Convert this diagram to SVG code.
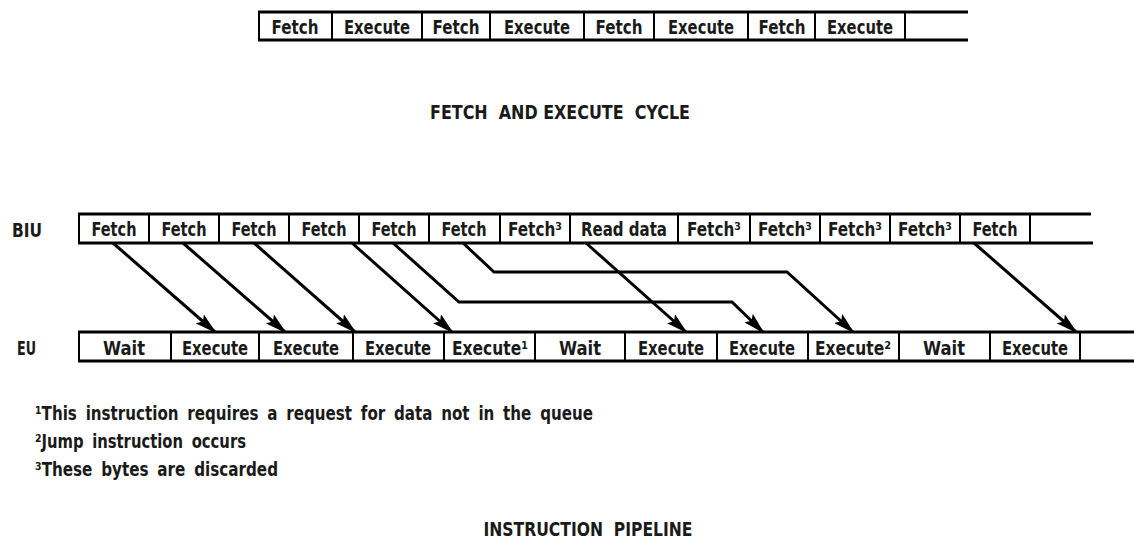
<svg xmlns="http://www.w3.org/2000/svg" width="1134" height="540" viewBox="0 0 1134 540">
<style>
text{font-family:'DejaVu Sans Condensed','Liberation Sans Narrow','Liberation Sans',sans-serif;font-weight:bold;fill:#1a1a1a}
.c{font-size:19px;text-anchor:middle}
.lbl{font-size:19px}
.fn{font-size:19px;word-spacing:4px}
.ttl{font-size:20px;text-anchor:middle;white-space:pre}
.h{stroke:#000;stroke-width:3;fill:none}
.d{stroke:#000;stroke-width:2}
.a{stroke:#000;stroke-width:3;fill:none;marker-end:url(#ah)}
</style>
<defs>
<marker id="ah" markerUnits="userSpaceOnUse" markerWidth="22" markerHeight="12" refX="20" refY="6" orient="auto" viewBox="0 0 22 12">
<path d="M0,0 L22,6 L0,12 L4,6 z" fill="#000"/>
</marker>
</defs>
<rect width="1134" height="540" fill="#fff"/>

<!-- Fetch and execute cycle -->
<g id="cycle-row">
<line class="h" x1="258" y1="12" x2="968" y2="12"/>
<line class="h" x1="258" y1="40" x2="968" y2="40"/>
<line class="d" x1="259" y1="12" x2="259" y2="40"/>
</g>
<g id="c1"><text class="c" x="295" y="34" textLength="47" lengthAdjust="spacingAndGlyphs">Fetch</text><line class="d" x1="332" y1="12" x2="332" y2="40"/></g>
<g id="c2"><text class="c" x="377" y="34" textLength="66" lengthAdjust="spacingAndGlyphs">Execute</text><line class="d" x1="422" y1="12" x2="422" y2="40"/></g>
<g id="c3"><text class="c" x="456" y="34" textLength="47" lengthAdjust="spacingAndGlyphs">Fetch</text><line class="d" x1="490" y1="12" x2="490" y2="40"/></g>
<g id="c4"><text class="c" x="537" y="34" textLength="66" lengthAdjust="spacingAndGlyphs">Execute</text><line class="d" x1="584" y1="12" x2="584" y2="40"/></g>
<g id="c5"><text class="c" x="619" y="34" textLength="47" lengthAdjust="spacingAndGlyphs">Fetch</text><line class="d" x1="654" y1="12" x2="654" y2="40"/></g>
<g id="c6"><text class="c" x="701" y="34" textLength="66" lengthAdjust="spacingAndGlyphs">Execute</text><line class="d" x1="748" y1="12" x2="748" y2="40"/></g>
<g id="c7"><text class="c" x="782" y="34" textLength="47" lengthAdjust="spacingAndGlyphs">Fetch</text><line class="d" x1="815" y1="12" x2="815" y2="40"/></g>
<g id="c8"><text class="c" x="860" y="34" textLength="66" lengthAdjust="spacingAndGlyphs">Execute</text><line class="d" x1="905" y1="12" x2="905" y2="40"/></g>

<g id="title1"><text class="ttl" x="560" y="119" textLength="260" lengthAdjust="spacingAndGlyphs">FETCH  AND EXECUTE  CYCLE</text></g>

<!-- BIU row -->
<g id="biu-label"><text class="lbl" x="12" y="237" textLength="30" lengthAdjust="spacingAndGlyphs">BIU</text></g>
<g id="biu-row">
<line class="h" x1="78" y1="214" x2="1091" y2="214"/>
<line class="h" x1="78" y1="243" x2="1093" y2="243"/>
<line class="d" x1="79" y1="214" x2="79" y2="243"/>
</g>
<g id="b1"><text class="c" x="114" y="236" textLength="45" lengthAdjust="spacingAndGlyphs">Fetch</text><line class="d" x1="149" y1="214" x2="149" y2="243"/></g>
<g id="b2"><text class="c" x="184" y="236" textLength="45" lengthAdjust="spacingAndGlyphs">Fetch</text><line class="d" x1="219" y1="214" x2="219" y2="243"/></g>
<g id="b3"><text class="c" x="254" y="236" textLength="45" lengthAdjust="spacingAndGlyphs">Fetch</text><line class="d" x1="289" y1="214" x2="289" y2="243"/></g>
<g id="b4"><text class="c" x="324" y="236" textLength="45" lengthAdjust="spacingAndGlyphs">Fetch</text><line class="d" x1="359" y1="214" x2="359" y2="243"/></g>
<g id="b5"><text class="c" x="394" y="236" textLength="45" lengthAdjust="spacingAndGlyphs">Fetch</text><line class="d" x1="429" y1="214" x2="429" y2="243"/></g>
<g id="b6"><text class="c" x="464" y="236" textLength="45" lengthAdjust="spacingAndGlyphs">Fetch</text><line class="d" x1="500" y1="214" x2="500" y2="243"/></g>
<g id="b7"><text class="c" x="535" y="236" textLength="54" lengthAdjust="spacingAndGlyphs">Fetch³</text><line class="d" x1="570" y1="214" x2="570" y2="243"/></g>
<g id="b8"><text class="c" x="624" y="236" textLength="86" lengthAdjust="spacingAndGlyphs">Read data</text><line class="d" x1="678" y1="214" x2="678" y2="243"/></g>
<g id="b9"><text class="c" x="714" y="236" textLength="54" lengthAdjust="spacingAndGlyphs">Fetch³</text><line class="d" x1="750" y1="214" x2="750" y2="243"/></g>
<g id="b10"><text class="c" x="785" y="236" textLength="54" lengthAdjust="spacingAndGlyphs">Fetch³</text><line class="d" x1="820" y1="214" x2="820" y2="243"/></g>
<g id="b11"><text class="c" x="855" y="236" textLength="54" lengthAdjust="spacingAndGlyphs">Fetch³</text><line class="d" x1="890" y1="214" x2="890" y2="243"/></g>
<g id="b12"><text class="c" x="925" y="236" textLength="54" lengthAdjust="spacingAndGlyphs">Fetch³</text><line class="d" x1="960" y1="214" x2="960" y2="243"/></g>
<g id="b13"><text class="c" x="995" y="236" textLength="45" lengthAdjust="spacingAndGlyphs">Fetch</text><line class="d" x1="1030" y1="214" x2="1030" y2="243"/></g>

<!-- EU row -->
<g id="eu-label"><text class="lbl" x="17" y="355" textLength="19" lengthAdjust="spacingAndGlyphs">EU</text></g>
<g id="eu-row">
<line class="h" x1="78" y1="332" x2="1134" y2="332"/>
<line class="h" x1="78" y1="361" x2="1134" y2="361"/>
<line class="d" x1="79" y1="332" x2="79" y2="361"/>
</g>
<g id="e1"><text class="c" x="124" y="355" textLength="42" lengthAdjust="spacingAndGlyphs">Wait</text><line class="d" x1="171" y1="332" x2="171" y2="361"/></g>
<g id="e2"><text class="c" x="215" y="355" textLength="66" lengthAdjust="spacingAndGlyphs">Execute</text><line class="d" x1="259" y1="332" x2="259" y2="361"/></g>
<g id="e3"><text class="c" x="306" y="355" textLength="66" lengthAdjust="spacingAndGlyphs">Execute</text><line class="d" x1="353" y1="332" x2="353" y2="361"/></g>
<g id="e4"><text class="c" x="398" y="355" textLength="66" lengthAdjust="spacingAndGlyphs">Execute</text><line class="d" x1="444" y1="332" x2="444" y2="361"/></g>
<g id="e5"><text class="c" x="490" y="355" textLength="76" lengthAdjust="spacingAndGlyphs">Execute¹</text><line class="d" x1="535" y1="332" x2="535" y2="361"/></g>
<g id="e6"><text class="c" x="580" y="355" textLength="42" lengthAdjust="spacingAndGlyphs">Wait</text><line class="d" x1="625" y1="332" x2="625" y2="361"/></g>
<g id="e7"><text class="c" x="671" y="355" textLength="66" lengthAdjust="spacingAndGlyphs">Execute</text><line class="d" x1="717" y1="332" x2="717" y2="361"/></g>
<g id="e8"><text class="c" x="762" y="355" textLength="66" lengthAdjust="spacingAndGlyphs">Execute</text><line class="d" x1="808" y1="332" x2="808" y2="361"/></g>
<g id="e9"><text class="c" x="853" y="355" textLength="76" lengthAdjust="spacingAndGlyphs">Execute²</text><line class="d" x1="899" y1="332" x2="899" y2="361"/></g>
<g id="e10"><text class="c" x="944" y="355" textLength="42" lengthAdjust="spacingAndGlyphs">Wait</text><line class="d" x1="990" y1="332" x2="990" y2="361"/></g>
<g id="e11"><text class="c" x="1035" y="355" textLength="66" lengthAdjust="spacingAndGlyphs">Execute</text><line class="d" x1="1080" y1="332" x2="1080" y2="361"/></g>

<!-- connectors -->
<g id="connectors">
<path class="a" d="M113,243 L215,332"/>
<path class="a" d="M183,243 L285,332"/>
<path class="a" d="M254,243 L355,332"/>
<path class="a" d="M352,243 L452,332"/>
<path class="a" d="M393,243 L459,302 L732,302 L763,332"/>
<path class="a" d="M463,243 L494,272 L787,272 L853,332"/>
<path class="a" d="M586,243 L686,332"/>
<path class="a" d="M974,243 L1076,332"/>
</g>

<!-- footnotes -->
<g id="footnotes">
<text class="fn" x="35" y="420" textLength="558" lengthAdjust="spacingAndGlyphs">¹This instruction requires a request for data not in the queue</text>
<text class="fn" x="35" y="448" textLength="211" lengthAdjust="spacingAndGlyphs">²Jump instruction occurs</text>
<text class="fn" x="35" y="476" textLength="243" lengthAdjust="spacingAndGlyphs">³These bytes are discarded</text>
</g>

<g id="title2"><text class="ttl" x="588" y="536" textLength="209" lengthAdjust="spacingAndGlyphs">INSTRUCTION  PIPELINE</text></g>
</svg>
